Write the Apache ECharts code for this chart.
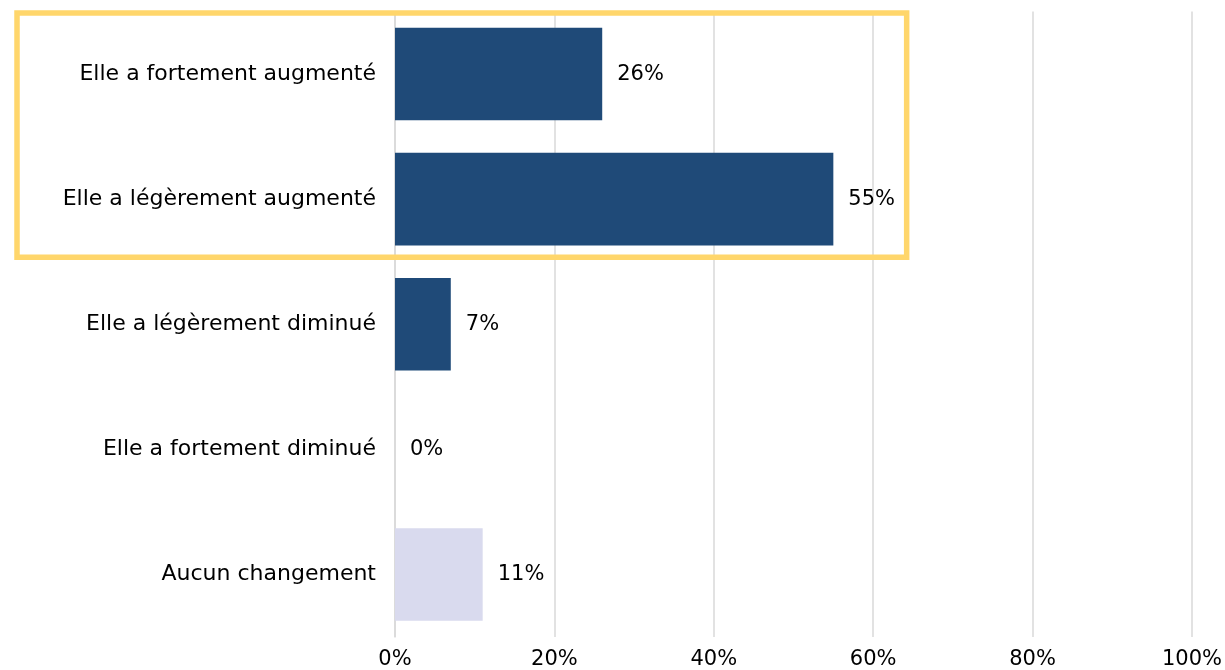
<!DOCTYPE html>
<html>
<head>
<meta charset="utf-8">
<script src="https://cdn.jsdelivr.net/npm/echarts@6/dist/echarts.min.js"></script>
<style>
  html, body { margin: 0; padding: 0; background: #ffffff; }
  #chart { width: 1225px; height: 670px; }
</style>
</head>
<body>
<div id="chart"></div>
<script>
// Answer options, top to bottom
const categories = [
  'Elle a fortement augmenté',
  'Elle a légèrement augmenté',
  'Elle a légèrement diminué',
  'Elle a fortement diminué',
  'Aucun changement'
];
// Share of respondents (%)
const values = [26, 55, 7, 0, 11];
// Bar fill per option
const barColors = ['#1F4A78', '#1F4A78', '#1F4A78', '#1F4A78', '#D9DAEE'];
// Options highlighted by the frame (indices into categories)
const highlighted = [0, 1];

const FONT = '"DejaVu Sans", "Noto Sans", sans-serif';

const chart = echarts.init(document.getElementById('chart'), null, { renderer: 'canvas' });

const option = {
  animation: false,
  backgroundColor: '#ffffff',
  grid: { left: 395, right: 33, top: 11.5, bottom: 32.5, containLabel: false },
  xAxis: {
    type: 'value',
    min: 0,
    max: 100,
    interval: 20,
    axisLine: { show: false },
    axisTick: { show: false },
    splitLine: { show: true, lineStyle: { color: '#D9D9D9', width: 1.5 } },
    axisLabel: {
      formatter: '{value}%',
      color: '#000000',
      fontSize: 21,
      fontFamily: FONT,
      margin: 12
    }
  },
  yAxis: {
    type: 'category',
    inverse: true,
    data: categories,
    axisLine: { show: true, lineStyle: { color: '#D9D9D9', width: 1.5 } },
    axisTick: { show: false },
    axisLabel: {
      color: '#000000',
      fontSize: 22,
      fontFamily: FONT,
      margin: 19
    }
  },
  series: [{
    type: 'bar',
    barWidth: '74%',
    data: values.map((v, i) => ({ value: v, itemStyle: { color: barColors[i] } })),
    label: {
      show: true,
      position: 'right',
      distance: 15,
      formatter: '{c}%',
      color: '#000000',
      fontSize: 21,
      fontFamily: FONT
    }
  }]
};

chart.setOption(option);

// Frame around the highlighted options, placed from the axis scales
function drawFrame() {
  const first = highlighted[0];
  const last = highlighted[highlighted.length - 1];
  const yTop = chart.convertToPixel({ yAxisIndex: 0 }, categories[first]);
  const yBot = chart.convertToPixel({ yAxisIndex: 0 }, categories[last]);
  const step = chart.convertToPixel({ yAxisIndex: 0 }, categories[1]) -
               chart.convertToPixel({ yAxisIndex: 0 }, categories[0]);
  const xRight = chart.convertToPixel({ xAxisIndex: 0 }, 64.2);
  const top = yTop - step / 2 + 1.5;
  const bottom = yBot + step / 2 - 4.5;
  chart.setOption({
    graphic: [{
      type: 'rect',
      z: 100,
      shape: { x: 17, y: top, width: xRight - 17, height: bottom - top },
      style: { fill: 'none', stroke: '#FFD66B', lineWidth: 5.5 }
    }]
  });
}
drawFrame();
</script>
</body>
</html>
